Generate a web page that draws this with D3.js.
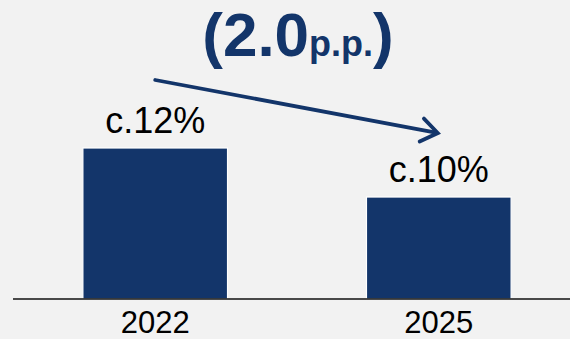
<!DOCTYPE html>
<html><head><meta charset="utf-8">
<script src="https://cdn.jsdelivr.net/npm/d3@7"></script>
<style>html,body{margin:0;padding:0;background:#f2f2f2;}svg{display:block;}</style>
</head><body>
<svg id="c" width="570" height="339"></svg>
<script>
const categories = ["2022", "2025"];
const values = [12, 10];
const valueLabels = ["c.12%", "c.10%"];
const changeMain = "(2.0";
const changeUnit = "p.p.";
const changeClose = ")";

const W = 570, H = 339;
const svg = d3.select("#c");
svg.append("rect").attr("width", W).attr("height", H).attr("fill", "#f2f2f2");

const navy = "#13356a";
const x = d3.scaleBand().domain(categories).range([12, 582]).paddingInner(0.49).paddingOuter(0.25);
const y = d3.scaleLinear().domain([5.84, 12]).range([299, 148]);

svg.selectAll("rect.bar").data(values).join("rect")
  .attr("class", "bar")
  .attr("x", (d, i) => x(categories[i]))
  .attr("width", x.bandwidth())
  .attr("y", d => y(d))
  .attr("height", d => y.range()[0] - y(d))
  .attr("fill", navy)
  .attr("stroke", "#ffffff").attr("stroke-width", 1.2);

svg.append("line").attr("x1", 13).attr("x2", 570).attr("y1", 299).attr("y2", 299)
  .attr("stroke", "#111").attr("stroke-width", 1.6);

svg.selectAll("text.val").data(values).join("text")
  .attr("class", "val")
  .attr("x", (d, i) => x(categories[i]) + x.bandwidth() / 2)
  .attr("y", d => y(d) - 15)
  .attr("text-anchor", "middle")
  .attr("font-family", "Liberation Sans, Arial, sans-serif")
  .attr("font-size", 36).attr("fill", "#000")
  .text((d, i) => valueLabels[i]);

svg.selectAll("text.cat").data(categories).join("text")
  .attr("class", "cat")
  .attr("x", d => x(d) + x.bandwidth() / 2)
  .attr("y", 333)
  .attr("text-anchor", "middle")
  .attr("font-family", "Liberation Sans, Arial, sans-serif")
  .attr("font-size", 31).attr("fill", "#000")
  .text(d => d);

// arrow
const x1 = x(categories[0]) + x.bandwidth() / 2, y1 = y(values[0]) - 68;
const x2 = x(categories[1]) + x.bandwidth() / 2 - 1, y2 = y(values[1]) - 64;
svg.append("line").attr("x1", x1).attr("y1", y1).attr("x2", x2 - 2).attr("y2", y2 - 0.4)
  .attr("stroke", navy).attr("stroke-width", 3.8).attr("stroke-linecap", "round");
const ang = Math.atan2(y2 - y1, x2 - x1);
const L = 20, spread = 0.62;
const pA = [x2 - L * Math.cos(ang - spread), y2 - L * Math.sin(ang - spread)];
const pB = [x2 - L * Math.cos(ang + spread), y2 - L * Math.sin(ang + spread)];
svg.append("path").attr("d", `M${pA[0]},${pA[1]}L${x2},${y2}L${pB[0]},${pB[1]}`)
  .attr("fill", "none").attr("stroke", navy).attr("stroke-width", 3.8)
  .attr("stroke-linecap", "round").attr("stroke-linejoin", "miter");

// title
const t = svg.append("text").attr("x", 298).attr("y", 56).attr("text-anchor", "middle")
  .attr("font-family", "Liberation Sans, Arial, sans-serif").attr("font-weight", "bold").attr("fill", navy);
t.append("tspan").attr("font-size", 62).text(changeMain);
t.append("tspan").attr("font-size", 36).text(changeUnit);
t.append("tspan").attr("font-size", 62).text(changeClose);
</script>
</body></html>
